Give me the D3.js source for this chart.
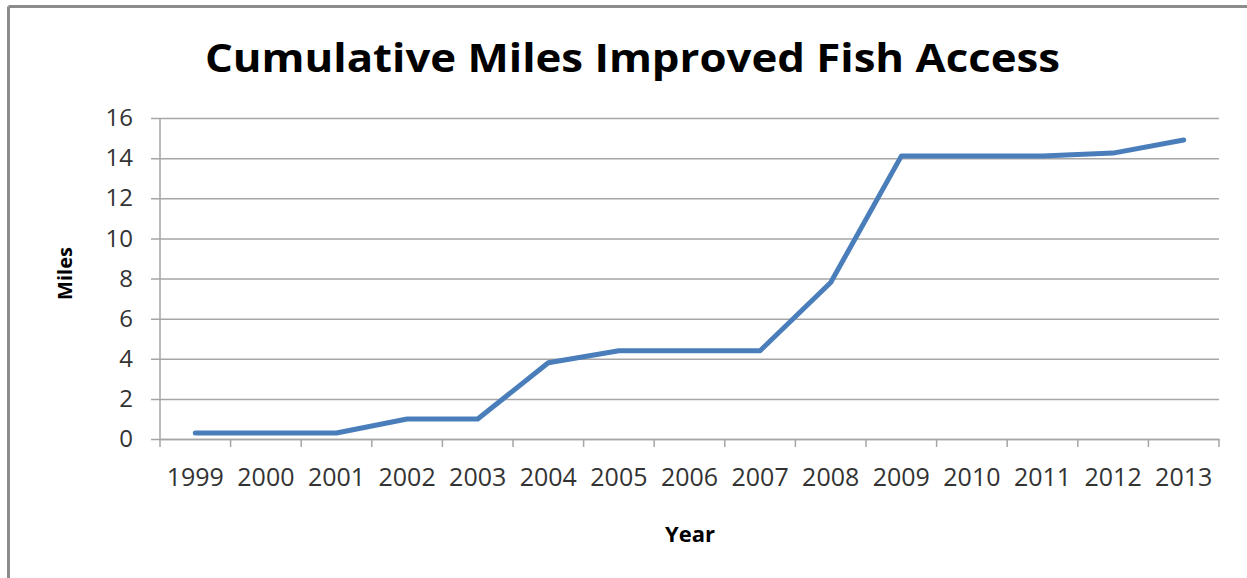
<!DOCTYPE html>
<html>
<head>
<meta charset="utf-8">
<script src="https://cdn.jsdelivr.net/npm/d3@7"></script>
<style>
  body { margin: 0; background: #fff; }
  svg { display: block; }
</style>
</head>
<body>
<svg id="chart"></svg>
<script>
// data
const years = ["1999", "2000", "2001", "2002", "2003", "2004", "2005", "2006",
               "2007", "2008", "2009", "2010", "2011", "2012", "2013"];
const miles = [0.3, 0.3, 0.3, 1.0, 1.0, 3.8, 4.4, 4.4, 4.4, 7.8, 14.1, 14.1, 14.1, 14.25, 14.9];
const yTicks = [0, 2, 4, 6, 8, 10, 12, 14, 16];

const W = 1247, H = 578;
const margin = { top: 118, right: 28, bottom: 139, left: 160 };
const width = W - margin.left - margin.right;
const height = H - margin.top - margin.bottom;

const svg = d3.select("#chart")
    .attr("width", W)
    .attr("height", H);

// outer frame (only left and top edges show)
svg.append("line").attr("x1", 8.5).attr("x2", W).attr("y1", 6.5).attr("y2", 6.5)
    .attr("stroke", "#8c8c8c").attr("stroke-width", 3);
svg.append("line").attr("x1", 8.5).attr("x2", 8.5).attr("y1", 6.5).attr("y2", H)
    .attr("stroke", "#8c8c8c").attr("stroke-width", 3);

// title
svg.append("text")
    .attr("x", 205)
    .attr("y", 72)
    .attr("textLength", 855)
    .attr("lengthAdjust", "spacingAndGlyphs")
    .style("font-family", "'Open Sans', sans-serif")
    .style("font-weight", "bold")
    .style("font-size", "39px")
    .style("fill", "#000")
    .text("Cumulative Miles Improved Fish Access");

const g = svg.append("g")
    .attr("transform", `translate(${margin.left},${margin.top})`);

const x = d3.scaleBand()
    .domain(years)
    .range([0, width]);

const y = d3.scaleLinear()
    .domain([0, 16])
    .range([height, 0]);

// y axis with gridlines
const yAxis = g.append("g")
    .call(d3.axisLeft(y).tickValues(yTicks).tickSize(-width).tickSizeOuter(0).tickPadding(27));
yAxis.select(".domain").remove();
yAxis.selectAll(".tick line")
    .attr("x1", -9)
    .attr("stroke", "#a6a6a6")
    .attr("stroke-width", 1.5);
yAxis.selectAll("text")
    .style("font-family", "'Open Sans', sans-serif")
    .style("font-size", "24px")
    .style("fill", "#333");

// y axis line
g.append("line")
    .attr("x1", 0).attr("x2", 0)
    .attr("y1", 0).attr("y2", height)
    .attr("stroke", "#a6a6a6")
    .attr("stroke-width", 1.5);

// x axis, ticks between categories
const xAxis = g.append("g")
    .attr("transform", `translate(0,${height})`)
    .call(d3.axisBottom(x).tickSize(0).tickPadding(29));
xAxis.select(".domain")
    .attr("stroke", "#a6a6a6")
    .attr("stroke-width", 1.5);
xAxis.selectAll("text")
    .style("font-family", "'Open Sans', sans-serif")
    .style("font-size", "25px")
    .style("fill", "#333");

const bounds = years.map(d => x(d)).concat([width]);
g.append("g")
    .selectAll("line")
    .data(bounds)
    .enter()
    .append("line")
    .attr("x1", d => d).attr("x2", d => d)
    .attr("y1", height).attr("y2", height + 8)
    .attr("stroke", "#a6a6a6")
    .attr("stroke-width", 1.5);

// the series
const line = d3.line()
    .x((d, i) => x(years[i]) + x.bandwidth() / 2)
    .y(d => y(d));

g.append("path")
    .datum(miles)
    .attr("d", line)
    .attr("fill", "none")
    .attr("stroke", "#4a7ebb")
    .attr("stroke-width", 5)
    .attr("stroke-linejoin", "round")
    .attr("stroke-linecap", "round");

// axis titles
svg.append("text")
    .attr("transform", `translate(72,${margin.top + height / 2 - 5}) rotate(-90)`)
    .attr("text-anchor", "middle")
    .style("font-family", "'Open Sans', sans-serif")
    .style("font-weight", "bold")
    .style("font-size", "20px")
    .style("fill", "#000")
    .text("Miles");

svg.append("text")
    .attr("x", 690)
    .attr("y", 542)
    .attr("text-anchor", "middle")
    .style("font-family", "'Open Sans', sans-serif")
    .style("font-weight", "bold")
    .style("font-size", "22px")
    .style("fill", "#000")
    .text("Year");
</script>
</body>
</html>
